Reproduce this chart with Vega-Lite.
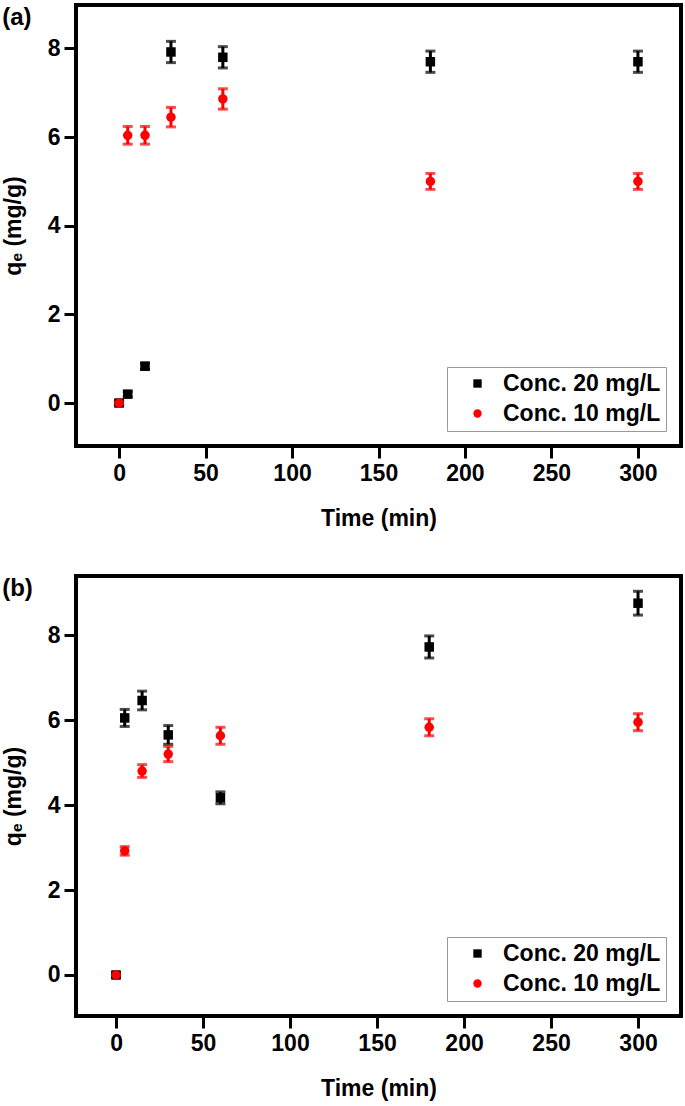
{
  "$schema": "https://vega.github.io/schema/vega-lite/v6.json",
  "padding": {"left": 0, "top": 3, "right": 4, "bottom": 2},
  "datasets": {
    "a": [
      {"t": 0, "q": 0, "e": 0.05, "s": "Conc. 20 mg/L"},
      {"t": 5, "q": 0.2, "e": 0.06, "s": "Conc. 20 mg/L"},
      {"t": 15, "q": 0.83, "e": 0.07, "s": "Conc. 20 mg/L"},
      {"t": 30, "q": 7.92, "e": 0.24, "s": "Conc. 20 mg/L"},
      {"t": 60, "q": 7.8, "e": 0.24, "s": "Conc. 20 mg/L"},
      {"t": 180, "q": 7.7, "e": 0.24, "s": "Conc. 20 mg/L"},
      {"t": 300, "q": 7.7, "e": 0.24, "s": "Conc. 20 mg/L"},
      {"t": 0, "q": 0, "e": 0.05, "s": "Conc. 10 mg/L"},
      {"t": 5, "q": 6.04, "e": 0.2, "s": "Conc. 10 mg/L"},
      {"t": 15, "q": 6.04, "e": 0.2, "s": "Conc. 10 mg/L"},
      {"t": 30, "q": 6.45, "e": 0.22, "s": "Conc. 10 mg/L"},
      {"t": 60, "q": 6.86, "e": 0.23, "s": "Conc. 10 mg/L"},
      {"t": 180, "q": 5.0, "e": 0.18, "s": "Conc. 10 mg/L"},
      {"t": 300, "q": 5.0, "e": 0.18, "s": "Conc. 10 mg/L"}
    ],
    "b": [
      {"t": 0, "q": 0, "e": 0.05, "s": "Conc. 20 mg/L"},
      {"t": 5, "q": 6.05, "e": 0.2, "s": "Conc. 20 mg/L"},
      {"t": 15, "q": 6.46, "e": 0.22, "s": "Conc. 20 mg/L"},
      {"t": 30, "q": 5.65, "e": 0.22, "s": "Conc. 20 mg/L"},
      {"t": 60, "q": 4.17, "e": 0.14, "s": "Conc. 20 mg/L"},
      {"t": 180, "q": 7.72, "e": 0.26, "s": "Conc. 20 mg/L"},
      {"t": 300, "q": 8.75, "e": 0.28, "s": "Conc. 20 mg/L"},
      {"t": 0, "q": 0, "e": 0.05, "s": "Conc. 10 mg/L"},
      {"t": 5, "q": 2.92, "e": 0.1, "s": "Conc. 10 mg/L"},
      {"t": 15, "q": 4.8, "e": 0.15, "s": "Conc. 10 mg/L"},
      {"t": 30, "q": 5.2, "e": 0.18, "s": "Conc. 10 mg/L"},
      {"t": 60, "q": 5.63, "e": 0.2, "s": "Conc. 10 mg/L"},
      {"t": 180, "q": 5.83, "e": 0.2, "s": "Conc. 10 mg/L"},
      {"t": 300, "q": 5.95, "e": 0.2, "s": "Conc. 10 mg/L"}
    ]
  },
  "vconcat": [
    {
      "width": 605,
      "height": 441,
      "data": {"name": "a"},
      "title": {"text": "(a)", "anchor": "start", "frame": "bounds", "dy": 29},
      "encoding": {
        "x": {"field": "t", "type": "quantitative", "title": "Time (min)", "scale": {"domain": [-24.9, 324.9], "nice": false, "zero": false}, "axis": {"values": [0, 50, 100, 150, 200, 250, 300]}},
        "y": {"field": "q", "type": "quantitative", "title": "qₑ (mg/g)", "scale": {"domain": [-0.97, 8.98], "nice": false, "zero": false}, "axis": {"values": [0, 2, 4, 6, 8]}}
      },
      "layer": [
        {
          "transform": [{"filter": "datum.s === 'Conc. 20 mg/L'"}],
          "mark": {"type": "errorbar", "ticks": true, "size": 10, "thickness": 3, "color": "#000000"},
          "encoding": {"yError": {"field": "e"}}
        },
        {
          "transform": [{"filter": "datum.s === 'Conc. 10 mg/L'"}],
          "mark": {"type": "errorbar", "ticks": true, "size": 10, "thickness": 3, "color": "#ff0000"},
          "encoding": {"yError": {"field": "e"}}
        },
        {
          "mark": {"type": "point", "filled": true, "opacity": 1, "size": 90},
          "encoding": {
            "color": {"field": "s", "type": "nominal", "sort": ["Conc. 20 mg/L", "Conc. 10 mg/L"], "title": null, "scale": {"domain": ["Conc. 20 mg/L", "Conc. 10 mg/L"], "range": ["#000000", "#ff0000"]}},
            "shape": {"field": "s", "type": "nominal", "sort": ["Conc. 20 mg/L", "Conc. 10 mg/L"], "scale": {"domain": ["Conc. 20 mg/L", "Conc. 10 mg/L"], "range": ["square", "circle"]}, "title": null},
            "order": {"field": "s", "sort": "descending"}
          }
        }
      ]
    },
    {
      "width": 605,
      "height": 440,
      "data": {"name": "b"},
      "title": {"text": "(b)", "anchor": "start", "frame": "bounds", "dy": 29},
      "encoding": {
        "x": {"field": "t", "type": "quantitative", "title": "Time (min)", "scale": {"domain": [-23, 324.7], "nice": false, "zero": false}, "axis": {"values": [0, 50, 100, 150, 200, 250, 300]}},
        "y": {"field": "q", "type": "quantitative", "title": "qₑ (mg/g)", "scale": {"domain": [-0.965, 9.39], "nice": false, "zero": false}, "axis": {"values": [0, 2, 4, 6, 8]}}
      },
      "layer": [
        {
          "transform": [{"filter": "datum.s === 'Conc. 20 mg/L'"}],
          "mark": {"type": "errorbar", "ticks": true, "size": 10, "thickness": 3, "color": "#000000"},
          "encoding": {"yError": {"field": "e"}}
        },
        {
          "transform": [{"filter": "datum.s === 'Conc. 10 mg/L'"}],
          "mark": {"type": "errorbar", "ticks": true, "size": 10, "thickness": 3, "color": "#ff0000"},
          "encoding": {"yError": {"field": "e"}}
        },
        {
          "mark": {"type": "point", "filled": true, "opacity": 1, "size": 90},
          "encoding": {
            "color": {"field": "s", "type": "nominal", "sort": ["Conc. 20 mg/L", "Conc. 10 mg/L"], "title": null, "scale": {"domain": ["Conc. 20 mg/L", "Conc. 10 mg/L"], "range": ["#000000", "#ff0000"]}},
            "shape": {"field": "s", "type": "nominal", "sort": ["Conc. 20 mg/L", "Conc. 10 mg/L"], "scale": {"domain": ["Conc. 20 mg/L", "Conc. 10 mg/L"], "range": ["square", "circle"]}, "title": null},
            "order": {"field": "s", "sort": "descending"}
          }
        }
      ]
    }
  ],
  "resolve": {
    "scale": {"color": "independent", "shape": "independent"},
    "legend": {"color": "independent", "shape": "independent"}
  },
  "config": {
    "font": "Liberation Sans",
    "background": "white",
    "view": {"stroke": "black", "strokeWidth": 4},
    "concat": {"spacing": 42},
    "title": {"fontSize": 24, "fontWeight": "bold", "color": "black", "offset": 0},
    "axis": {
      "grid": false,
      "domain": false,
      "ticks": true,
      "tickColor": "black",
      "tickWidth": 3,
      "tickSize": 12,
      "labelFontSize": 23,
      "labelFontWeight": "bold",
      "labelColor": "black",
      "labelPadding": 4,
      "titleFontSize": 23,
      "titleFontWeight": "bold",
      "titleColor": "black"
    },
    "axisX": {"titlePadding": 22},
    "axisY": {"titlePadding": 22},
    "legend": {
      "orient": "bottom-right",
      "offset": 15,
      "strokeColor": "#999999",
      "strokeWidth": 1,
      "fillColor": "white",
      "padding": 5,
      "labelFontSize": 23,
      "labelFontWeight": "bold",
      "labelColor": "black",
      "symbolSize": 70,
      "symbolStrokeWidth": 0,
      "symbolOffset": 14,
      "rowPadding": 6,
      "labelOffset": 14
    }
  }
}
